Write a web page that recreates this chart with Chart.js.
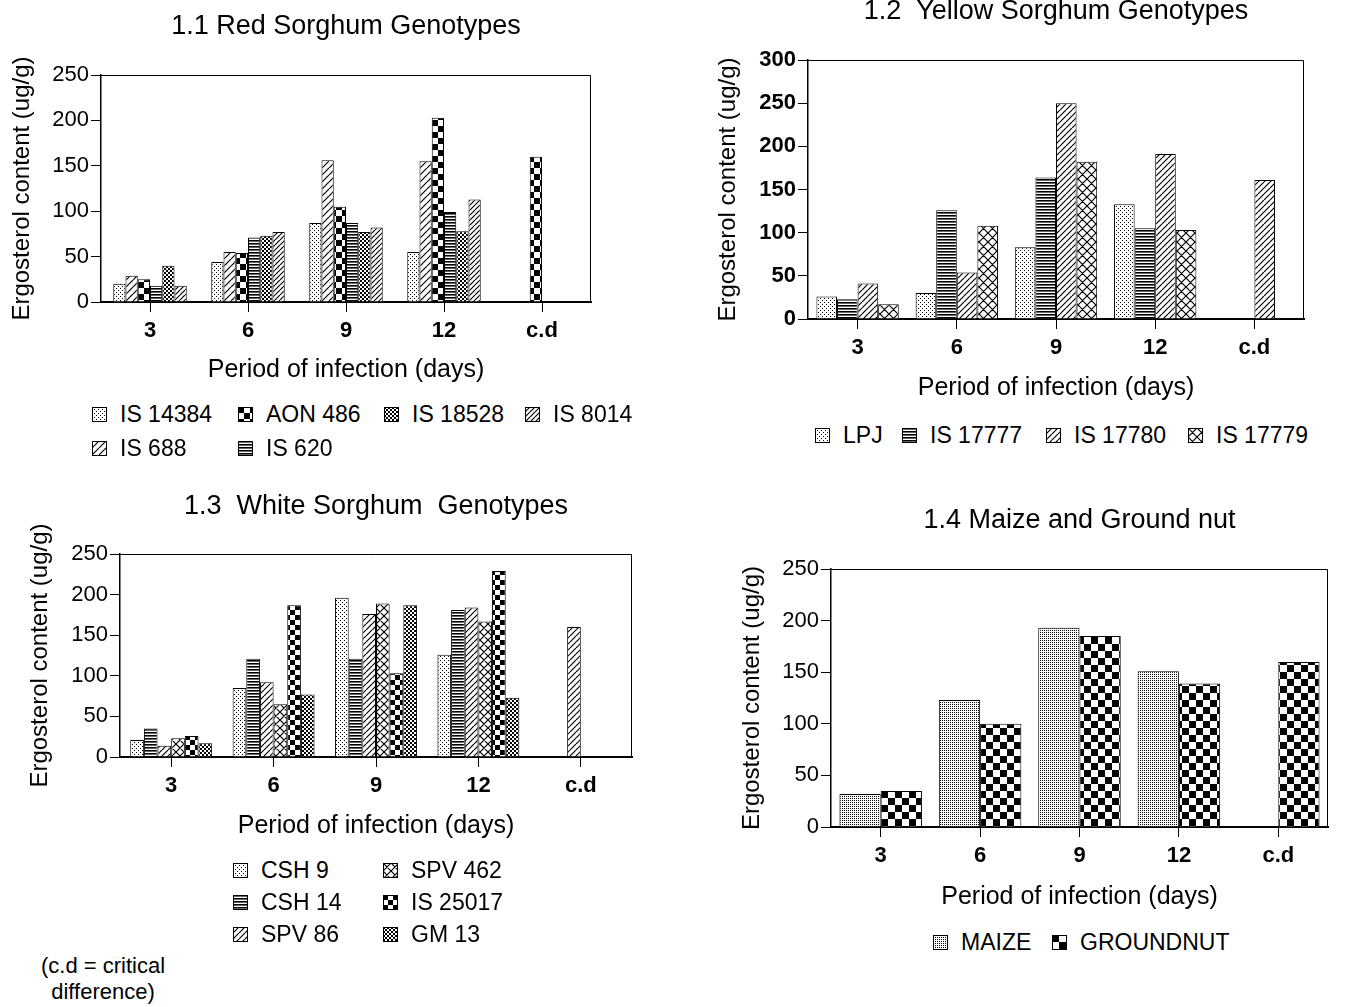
<!DOCTYPE html>
<html>
<head>
<meta charset="utf-8">
<script src="https://cdn.jsdelivr.net/npm/chart.js@4.4.1/dist/chart.umd.min.js"></script>
<style>
  html, body { margin: 0; padding: 0; background: #fff; overflow: hidden; }
  body { width: 1352px; height: 1007px; position: relative; font-family: "Liberation Sans", Arial, sans-serif; color: #000; }
  canvas.panel { position: absolute; }
  .legend { position: absolute; display: grid; font-size: 23px; line-height: 24px; }
  .item { display: flex; align-items: center; white-space: nowrap; }
  .item canvas { width: 15px; height: 15px; margin-right: 13px; }
  .note { position: absolute; left: 30px; top: 953px; width: 146px; text-align: center; font-size: 22px; line-height: 26px; }
</style>
</head>
<body>
<canvas id="red" class="panel"></canvas>
<canvas id="yellow" class="panel"></canvas>
<canvas id="white" class="panel"></canvas>
<canvas id="maize" class="panel"></canvas>

<div id="redLegend" class="legend" style="left:92px; top:402px; grid-template-columns:146px 146px 141px auto; row-gap:10px;"></div>
<div id="yellowLegend" class="legend" style="left:815px; top:423px; grid-template-columns:87px 144px 142px auto;"></div>
<div id="whiteLegend" class="legend" style="left:233px; top:858px; grid-template-columns:150px auto; row-gap:8px;"></div>
<div id="maizeLegend" class="legend" style="left:933px; top:930px; grid-template-columns:119px auto;"></div>
<div class="note">(c.d = critical<br>difference)</div>

<script>
const periods = ['3', '6', '9', '12', 'c.d'];

// 1.1 red sorghum (order = order of the bars inside a group)
const redNames = ['IS 14384', 'IS 688', 'AON 486', 'IS 620', 'IS 18528', 'IS 8014'];
const redIS14384 = [20, 44, 87, 55, null];
const redIS688 = [29, 55, 156, 155, null];
const redAON486 = [25, 54, 105, 203, 160];
const redIS620 = [18, 71, 87, 99, null];
const redIS18528 = [40, 73, 77, 78, null];
const redIS8014 = [18, 77, 82, 113, null];
const redLegendOrder = ['IS 14384', 'AON 486', 'IS 18528', 'IS 8014', 'IS 688', 'IS 620'];

// 1.2 yellow sorghum
const yellowNames = ['LPJ', 'IS 17777', 'IS 17780', 'IS 17779'];
const yellowLPJ = [26, 30, 83, 133, null];
const yellowIS17777 = [23, 126, 164, 105, null];
const yellowIS17780 = [41, 54, 250, 191, 161];
const yellowIS17779 = [17, 108, 182, 103, null];

// 1.3 white sorghum
const whiteNames = ['CSH 9', 'CSH 14', 'SPV 86', 'SPV 462', 'IS 25017', 'GM 13'];
const whiteCSH9 = [21, 85, 196, 126, null];
const whiteCSH14 = [35, 121, 121, 181, null];
const whiteSPV86 = [14, 92, 176, 184, 160];
const whiteSPV462 = [23, 65, 189, 167, null];
const whiteIS25017 = [26, 187, 103, 229, null];
const whiteGM13 = [17, 77, 187, 73, null];
const whiteLegendOrder = ['CSH 9', 'SPV 462', 'CSH 14', 'IS 25017', 'SPV 86', 'GM 13'];

// 1.4 maize and groundnut
const maizeNames = ['MAIZE', 'GROUNDNUT'];
const maizeValues = [32, 123, 193, 151, null];
const groundnutValues = [35, 100, 185, 139, 160];

// fill patterns: [kind, tile size]
const redFills = [['dots', 4], ['hatch', 7], ['checker', 6], ['horiz', 3], ['checker', 2], ['hatch', 5]];
const yellowFills = [['dots', 4], ['horiz', 3], ['hatch', 6], ['cross', 9]];
const whiteFills = [['dots', 4], ['horiz', 3], ['hatch', 6], ['cross', 8], ['checker', 5], ['checker', 2]];
const maizeFills = [['fine', 2], ['checker', 7]];

Chart.defaults.font.family = '"Liberation Sans", Arial, sans-serif';
Chart.defaults.color = '#000';

function makePattern(kind, s) {
  const tile = document.createElement('canvas');
  const n = kind === 'checker' ? 2 * s : s;
  tile.width = tile.height = n;
  const g = tile.getContext('2d');
  g.fillStyle = '#fff';
  g.fillRect(0, 0, n, n);
  g.fillStyle = '#000';
  g.strokeStyle = '#000';
  if (kind === 'dots') {
    g.fillRect(0, 0, 1, 1);
    g.fillRect(s / 2, s / 2, 1, 1);
  } else if (kind === 'fine') {
    g.fillRect(0, 0, 1, 1);
  } else if (kind === 'horiz') {
    g.fillRect(0, 0, n, 1);
    g.fillStyle = '#666';
    g.fillRect(0, 1, n, 1);
  } else if (kind === 'checker') {
    g.fillRect(0, 0, s, s);
    g.fillRect(s, s, s, s);
  } else {
    g.lineWidth = 1.2;
    g.beginPath();
    for (const d of [-n, 0, n]) { g.moveTo(d, n); g.lineTo(d + n, 0); }
    if (kind === 'cross') {
      for (const d of [-n, 0, n]) { g.moveTo(d, 0); g.lineTo(d + n, n); }
    }
    g.stroke();
  }
  return g.createPattern(tile, 'repeat');
}

// top and right edge of the plot box
const frame = {
  id: 'frame',
  afterDraw(chart) {
    const { ctx, chartArea: a } = chart;
    ctx.save();
    ctx.strokeStyle = '#000';
    ctx.lineWidth = 1;
    ctx.beginPath();
    ctx.moveTo(a.left, a.top + 0.5);
    ctx.lineTo(a.right - 0.5, a.top + 0.5);
    ctx.lineTo(a.right - 0.5, a.bottom);
    ctx.stroke();
    ctx.restore();
  }
};

function drawPanel(id, names, values, fills, o) {
  const canvas = document.getElementById(id);
  const b = o.box, p = o.plot;
  canvas.width = b.w;
  canvas.height = b.h;
  canvas.style.left = b.x + 'px';
  canvas.style.top = b.y + 'px';
  const padTop = o.titleY - b.y - 15;

  return new Chart(canvas, {
    type: 'bar',
    data: {
      labels: periods,
      datasets: names.map((name, i) => ({
        label: name,
        data: values[i],
        backgroundColor: makePattern(fills[i][0], fills[i][1]),
        borderColor: '#000',
        borderWidth: 1,
        categoryPercentage: o.groupWidth,
        barPercentage: 1
      }))
    },
    options: {
      responsive: false,
      animation: false,
      layout: { padding: { left: 0, top: padTop, right: b.x + b.w - p.r, bottom: 0 } },
      plugins: {
        legend: { display: false },
        tooltip: { enabled: false },
        title: {
          display: true,
          text: o.title,
          fullSize: false,
          font: { size: 27, weight: 'normal', lineHeight: '30px' },
          padding: { top: 0, bottom: p.t - b.y - padTop - 30 }
        }
      },
      scales: {
        x: {
          grid: { offset: false, drawOnChartArea: false, tickLength: 10, color: '#000' },
          border: { color: '#000', width: 2 },
          ticks: { font: { size: 22, weight: 'bold' }, padding: 6, maxRotation: 0 },
          title: { display: true, text: 'Period of infection (days)', font: { size: 25, lineHeight: '30px' }, padding: 0 },
          afterFit: s => { s.height = b.y + b.h - p.b; }
        },
        y: {
          min: 0,
          max: o.yMax,
          ticks: { stepSize: 50, font: { size: 22, weight: o.boldY ? 'bold' : 'normal' }, padding: 2 },
          grid: { drawOnChartArea: false, tickLength: 10, color: '#000' },
          border: { color: '#000', width: 1.5 },
          title: {
            display: true,
            text: 'Ergosterol content (ug/g)',
            font: { size: 24, lineHeight: '30px' },
            padding: { top: o.yTitleX - b.x - 15, bottom: 0 }
          },
          afterFit: s => { s.width = p.l - b.x; }
        }
      }
    },
    plugins: [frame]
  });
}

function buildLegend(id, order, names, fills) {
  const box = document.getElementById(id);
  order.forEach(name => {
    const i = names.indexOf(name);
    const item = document.createElement('div');
    item.className = 'item';
    const sw = document.createElement('canvas');
    sw.width = 15;
    sw.height = 15;
    const g = sw.getContext('2d');
    g.fillStyle = makePattern(fills[i][0], fills[i][1]);
    g.fillRect(0, 0, 15, 15);
    g.strokeStyle = '#000';
    g.strokeRect(0.5, 0.5, 14, 14);
    const t = document.createElement('span');
    t.textContent = name;
    item.append(sw, t);
    box.appendChild(item);
  });
}

drawPanel('red', redNames, [redIS14384, redIS688, redAON486, redIS620, redIS18528, redIS8014], redFills, {
  title: '1.1 Red Sorghum Genotypes', yMax: 250, groupWidth: 0.75,
  box: { x: 0, y: 0, w: 600, h: 385 }, plot: { l: 101, t: 75, r: 591, b: 302 },
  titleY: 27, yTitleX: 22
});
drawPanel('yellow', yellowNames, [yellowLPJ, yellowIS17777, yellowIS17780, yellowIS17779], yellowFills, {
  title: '1.2  Yellow Sorghum Genotypes', yMax: 300, groupWidth: 0.83, boldY: true,
  box: { x: 700, y: -10, w: 620, h: 413 }, plot: { l: 808, t: 60, r: 1304, b: 319 },
  titleY: 12, yTitleX: 728
});
drawPanel('white', whiteNames, [whiteCSH9, whiteCSH14, whiteSPV86, whiteSPV462, whiteIS25017, whiteGM13], whiteFills, {
  title: '1.3  White Sorghum  Genotypes', yMax: 250, groupWidth: 0.8,
  box: { x: 0, y: 480, w: 645, h: 361 }, plot: { l: 120, t: 554, r: 632, b: 757 },
  titleY: 507, yTitleX: 40
});
drawPanel('maize', maizeNames, [maizeValues, groundnutValues], maizeFills, {
  title: '1.4 Maize and Ground nut', yMax: 250, groupWidth: 0.83,
  box: { x: 720, y: 490, w: 620, h: 422 }, plot: { l: 831, t: 569, r: 1328, b: 827 },
  titleY: 521, yTitleX: 752
});

buildLegend('redLegend', redLegendOrder, redNames, redFills);
buildLegend('yellowLegend', yellowNames, yellowNames, yellowFills);
buildLegend('whiteLegend', whiteLegendOrder, whiteNames, whiteFills);
buildLegend('maizeLegend', maizeNames, maizeNames, maizeFills);
</script>
</body>
</html>
